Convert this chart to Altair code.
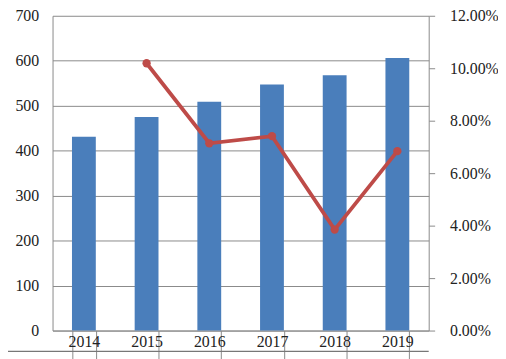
import altair as alt
import pandas as pd

years = ["2014", "2015", "2016", "2017", "2018", "2019"]
output = [431, 475, 509, 547, 568, 606]
growth_years = ["2015", "2016", "2017", "2018", "2019"]
growth = [0.1019, 0.0714, 0.0741, 0.0385, 0.0684]

bars_df = pd.DataFrame({"year": years, "value": output})
line_df = pd.DataFrame({"year": growth_years, "growth": growth})

FONT = "Liberation Serif"
GRID = "#8a8a8a"

xscale = alt.Scale(domain=years, paddingInner=0.62, paddingOuter=0.31)
xaxis = alt.Axis(title=None, labelAngle=0, tickBand="extent", tickSize=30,
                 tickColor=GRID, domainColor=GRID, labelPadding=-27,
                 labelFont=FONT, labelFontSize=16, labelColor="#222")

bars = alt.Chart(bars_df).mark_bar(color="#4A7EBB").encode(
    x=alt.X("year:N", sort=years, scale=xscale, axis=xaxis),
    y=alt.Y("value:Q", scale=alt.Scale(domain=[0, 700], nice=False),
            axis=alt.Axis(title=None, values=[0, 100, 200, 300, 400, 500, 600, 700],
                          grid=True, gridColor=GRID, domainColor=GRID, ticks=False,
                          labelPadding=14, labelFont=FONT, labelFontSize=16,
                          labelColor="#222")),
)

line = alt.Chart(line_df).mark_line(color="#BE4B48", strokeWidth=3.8,
                                    point=alt.OverlayMarkDef(color="#BE4B48", size=70, opacity=1)).encode(
    x=alt.X("year:N", sort=years, scale=xscale, axis=xaxis),
    y=alt.Y("growth:Q", scale=alt.Scale(domain=[0, 0.12], nice=False),
            axis=alt.Axis(title=None, orient="right", format=".2%",
                          values=[0, 0.02, 0.04, 0.06, 0.08, 0.10, 0.12],
                          grid=False, domainColor=GRID, tickColor=GRID, tickSize=6,
                          labelPadding=15, labelFont=FONT, labelFontSize=16,
                          labelColor="#222")),
)

bottom = alt.Chart(pd.DataFrame({"a": [0]})).mark_rule(color="#777777", strokeWidth=1.2).encode(
    x=alt.value(-53), x2=alt.value(380), y=alt.value(339), y2=alt.value(339)
)

chart = alt.layer(bars, line, bottom).resolve_scale(y="independent").properties(
    width=380, height=318,
    autosize=alt.AutoSizeParams(type="none"),
    padding={"left": 45, "top": 6, "right": 70, "bottom": 40},
).configure_view(stroke=None)

chart.save("out.html", embed_options={"renderer": "svg", "actions": False})
